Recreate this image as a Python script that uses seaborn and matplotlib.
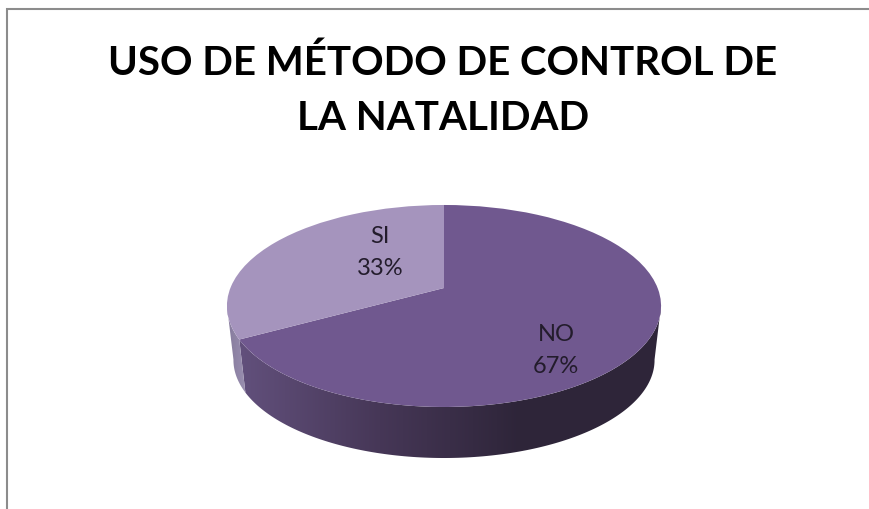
import numpy as np
import matplotlib
matplotlib.use("Agg")
import matplotlib.pyplot as plt
import seaborn as sns
from matplotlib.colors import LinearSegmentedColormap
from matplotlib.patches import Polygon
from matplotlib.transforms import Transform

title_text = "USO DE MÉTODO DE CONTROL DE\nLA NATALIDAD"
categories = ["NO", "SI"]
values = [67, 33]
top_colors = ["#70588f", "#a594bd"]
side_colors = [["#62507c", "#463757", "#2e2539", "#2f263a"], ["#857a9c", "#9a8fb0"]]
label_pos = [(556, 351), (380, 253)]


class Tilt(Transform):
    """Puts the unit pie on the tilted disc, in pixel coordinates."""
    input_dims = output_dims = 2

    def __init__(self, cy, scale=1.0):
        super().__init__()
        self.cy, self.scale = cy, scale

    def transform_non_affine(self, pts):
        pts = np.asarray(pts)
        d = 1 + 0.178 * pts[:, 1]
        return np.column_stack([
            444 + self.scale * 213.6 * pts[:, 0] / d,
            self.cy - self.scale * 97.8 * pts[:, 1] / d,
        ])


sns.set_theme(style="white")
plt.rcParams["font.family"] = ["Lato", "DejaVu Sans"]

fig = plt.figure(figsize=(8.69, 5.1), dpi=100, facecolor="white")
ax = fig.add_axes([0, 0, 1, 1])

wedges, _ = ax.pie(values, colors=top_colors, startangle=90, counterclock=False,
                   wedgeprops={"linewidth": 0, "edgecolor": "none"})

top = Tilt(289)
bottom = Tilt(343.6, 0.97)

# side wall, only the front part of each slice can be seen
for wedge, cols in zip(wedges, side_colors):
    lo, hi = max(wedge.theta1, -170), min(wedge.theta2, -10)
    t = np.radians(np.linspace(lo, hi, 150))
    arc = np.column_stack([np.cos(t), np.sin(t)])
    outline = np.vstack([top.transform(arc), bottom.transform(arc)[::-1]])
    wall = Polygon(outline, closed=True, fc="none", ec="none", transform=ax.transData)
    ax.add_patch(wall)
    x0, x1 = outline[:, 0].min(), outline[:, 0].max()
    im = ax.imshow(np.linspace(0, 1, 256)[None, :], extent=(x0, x1, 510, 0), aspect="auto",
                   cmap=LinearSegmentedColormap.from_list("side", cols), zorder=1)
    im.set_clip_path(wall)

for wedge in wedges:
    wedge.set_transform(top + ax.transData)
    wedge.set_zorder(2)

ax.set_aspect("auto")
ax.set_xlim(0, 869)
ax.set_ylim(510, 0)
ax.axis("off")

# chart frame, top and left only
ax.plot([7, 7, 869], [510, 10, 10], color="#8c8c8c", lw=1.5, solid_joinstyle="miter")

for cat, val, (x, y) in zip(categories, values, label_pos):
    ax.text(x, y - 16, cat, ha="center", va="center", fontsize=17, color="#231c2c", zorder=3)
    ax.text(x, y + 16, f"{val}%", ha="center", va="center", fontsize=17, color="#231c2c", zorder=3)

for line, y in zip(title_text.split("\n"), [63, 119]):
    ax.text(443, y, line, ha="center", va="center", fontsize=29, fontweight="bold", color="black")

fig.savefig("out.png", dpi=100, facecolor="white")
